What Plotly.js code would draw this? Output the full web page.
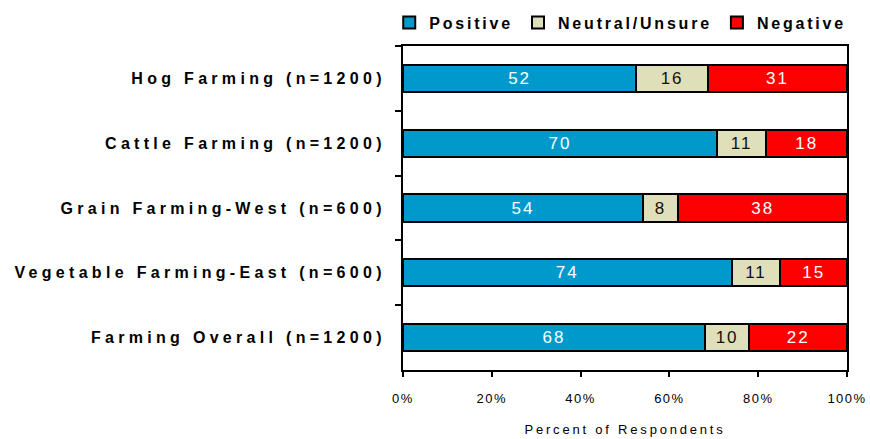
<!DOCTYPE html>
<html>
<head>
<meta charset="utf-8">
<script src="https://cdn.plot.ly/plotly-3.0.1.min.js"></script>
<style>
  body { margin: 0; background: #fff; }
  .legendtext { letter-spacing: 2.8px; }
  .ytick text, .yaxislayer-above text { letter-spacing: 4.3px; }
  .xtick text, .xaxislayer-above text { letter-spacing: 1.5px; }
  .g-xtitle text { letter-spacing: 2.8px; }
  .bartext { letter-spacing: 2px; }
</style>
</head>
<body>
<div id="chart" style="width:870px;height:439px;"></div>
<script>
// categories, top to bottom
const groups = [
  "Hog Farming (n=1200)",
  "Cattle Farming (n=1200)",
  "Grain Farming-West (n=600)",
  "Vegetable Farming-East (n=600)",
  "Farming Overall (n=1200)"
];

// percent of respondents
const positive = [52, 70, 54, 74, 68];
const neutral = [16, 11, 8, 11, 10];
const negative = [31, 18, 38, 15, 22];

const xTicks = [0, 20, 40, 60, 80, 100];

function makeTrace(name, values, color, textColor) {
  return {
    type: "bar",
    orientation: "h",
    name: name,
    y: groups,
    x: values,
    text: values.map(String),
    textposition: "inside",
    insidetextanchor: "middle",
    textangle: 0,
    constraintext: "none",
    textfont: { family: "Liberation Sans, Arial, sans-serif", size: 17, color: textColor },
    marker: { color: color, line: { color: "#000", width: 2 } },
    hoverinfo: "x+y+name"
  };
}

const traces = [
  makeTrace("Positive", positive, "#0099cc", "#ffffff"),
  makeTrace("Neutral/Unsure", neutral, "#dfdfb9", "#111111"),
  makeTrace("Negative", negative, "#ff0000", "#ffffff")
];

const layout = {
  width: 870,
  height: 439,
  barmode: "stack",
  barnorm: "percent",
  bargap: 0.58,
  paper_bgcolor: "#fff",
  plot_bgcolor: "#fff",
  margin: { l: 403, r: 23, t: 46, b: 69, autoexpand: false },
  font: { family: "Liberation Sans, Arial, sans-serif", color: "#000" },
  showlegend: true,
  legend: {
    orientation: "h",
    traceorder: "normal",
    x: -0.031,
    xanchor: "left",
    y: 1.125,
    yanchor: "top",
    font: { size: 16, weight: "bold", color: "#000" },
    itemwidth: 30,
    tracegroupgap: 0
  },
  xaxis: {
    range: [0, 100],
    tickvals: xTicks,
    ticktext: xTicks.map(v => v + "%"),
    ticks: "outside",
    ticklen: 5,
    tickwidth: 2,
    tickcolor: "#000",
    showline: true,
    linewidth: 2,
    linecolor: "#000",
    mirror: true,
    showgrid: false,
    zeroline: false,
    ticklabelstandoff: 10,
    tickfont: { size: 13, color: "#000" },
    title: { text: "Percent of Respondents", font: { size: 13, color: "#000" }, standoff: 20 }
  },
  yaxis: {
    type: "category",
    autorange: "reversed",
    tickson: "boundaries",
    ticks: "outside",
    ticklen: 6,
    tickwidth: 2,
    tickcolor: "#000",
    showline: true,
    linewidth: 2,
    linecolor: "#000",
    mirror: true,
    showgrid: false,
    ticklabelstandoff: 12,
    tickfont: { size: 16, weight: "bold", color: "#000" }
  }
};

Plotly.newPlot("chart", traces, layout, { displayModeBar: false, staticPlot: true });
</script>
</body>
</html>
